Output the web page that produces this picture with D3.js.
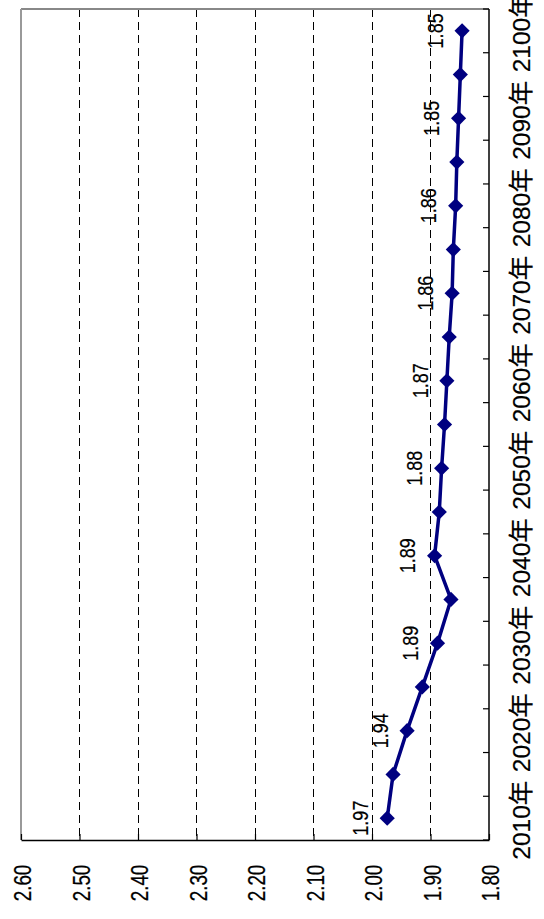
<!DOCTYPE html>
<html><head><meta charset="utf-8">
<script src="https://cdn.jsdelivr.net/npm/d3@7"></script>
<style>body{margin:0;background:#fff} svg{display:block}</style>
</head><body>
<svg id="c" width="544" height="919"></svg>
<script>
const years = [2010,2015,2020,2025,2030,2035,2040,2045,2050,2055,2060,2065,2070,2075,2080,2085,2090,2095,2100];
const values = [1.974,1.964,1.940,1.914,1.888,1.865,1.893,1.885,1.881,1.876,1.872,1.868,1.863,1.861,1.857,1.855,1.852,1.849,1.846];
const valueTicks = [2.60,2.50,2.40,2.30,2.20,2.10,2.00,1.90,1.80];
const yearTickLabels = [2010,2020,2030,2040,2050,2060,2070,2080,2090,2100];
const labelledYears = [2010,2020,2030,2040,2050,2060,2070,2080,2090,2100];

const svg = d3.select('#c');
const L = 21, R = 489, T = 9, B = 840;
const x = d3.scaleLinear().domain([2.60, 1.80]).range([L, R]);
const y = d3.scaleBand().domain(years).range([B, T]).padding(0);
const bw = y.bandwidth();
const yc = d => y(d) + bw / 2;
const data = years.map((yr, i) => ({yr, v: values[i]}));

// gridlines (dashed) at inner value ticks
svg.append('g').selectAll('line').data(valueTicks.filter(v => v < 2.595 && v > 1.805)).join('line')
  .attr('x1', d => x(d)).attr('x2', d => x(d)).attr('y1', T).attr('y2', B)
  .attr('stroke', '#000').attr('stroke-width', 1).attr('stroke-dasharray', '8,5')
  .attr('shape-rendering', 'crispEdges');

// plot border top/left grey
svg.append('line').attr('x1', L).attr('x2', R).attr('y1', T).attr('y2', T)
  .attr('stroke', '#888').attr('stroke-width', 2);
svg.append('line').attr('x1', L).attr('x2', L).attr('y1', T).attr('y2', B)
  .attr('stroke', '#999').attr('stroke-width', 2);

// value axis (bottom)
const xAxis = d3.axisBottom(x).tickValues(valueTicks).tickSizeInner(-6).tickSizeOuter(0).tickFormat(d3.format('.2f'));
const gx = svg.append('g').attr('transform', `translate(0,${B})`).call(xAxis);
gx.select('.domain').attr('stroke', '#000').attr('stroke-width', 1.5);
gx.selectAll('.tick line').attr('stroke', '#000').attr('stroke-width', 1.2);
gx.selectAll('.tick text')
  .attr('font-family', 'Liberation Sans, Arial, sans-serif').attr('font-size', 23)
  .attr('fill', '#000').attr('stroke', '#000').attr('stroke-width', 0.25)
  .attr('text-anchor', 'middle').attr('dominant-baseline', 'central')
  .attr('x', null).attr('y', null).attr('dy', null)
  .attr('transform', 'translate(1.5,43) rotate(-90) scale(0.82,1)');

// category axis (right)
const gy = svg.append('g').attr('transform', `translate(${R},0)`);
gy.append('line').attr('x1', 0).attr('x2', 0).attr('y1', T).attr('y2', B)
  .attr('stroke', '#000').attr('stroke-width', 1.5);
const boundaries = years.map(d => y(d)).concat([B]);
gy.selectAll('line.tk').data(boundaries).join('line').attr('class', 'tk')
  .attr('x1', -6).attr('x2', 0).attr('y1', d => d).attr('y2', d => d)
  .attr('stroke', '#000').attr('stroke-width', 1.2);
gy.selectAll('text').data(yearTickLabels).join('text')
  .attr('transform', d => `translate(32,${yc(d) + 2}) rotate(-90)`)
  .attr('text-anchor', 'middle').attr('dominant-baseline', 'central')
  .attr('font-family', 'Liberation Sans, Arial, "Noto Sans CJK JP", sans-serif').attr('font-size', 24.5)
  .attr('fill', '#000').attr('stroke', '#000').attr('stroke-width', 0.2)
  .text(d => d + '年');

// line
svg.append('path').datum(data)
  .attr('d', d3.line().x(d => x(d.v)).y(d => yc(d.yr)))
  .attr('fill', 'none').attr('stroke', '#000080').attr('stroke-width', 3.5).attr('stroke-linejoin', 'round');

// markers
const sym = d3.symbol().type(d3.symbolSquare).size(115);
svg.append('g').selectAll('path').data(data).join('path')
  .attr('d', sym)
  .attr('transform', d => `translate(${x(d.v)},${yc(d.yr)}) rotate(45)`)
  .attr('fill', '#000080');

// data labels
const fmt = d3.format('.2f');
svg.append('g').selectAll('text').data(data.filter(d => labelledYears.includes(d.yr))).join('text')
  .attr('transform', d => `translate(${x(d.v) - 27},${yc(d.yr)}) rotate(-90) scale(0.82,1)`)
  .attr('text-anchor', 'middle').attr('dominant-baseline', 'central')
  .attr('font-family', 'Liberation Sans, Arial, sans-serif').attr('font-size', 22)
  .attr('fill', '#000').attr('stroke', '#000').attr('stroke-width', 0.2)
  .text(d => fmt(d.v));
</script>
</body></html>
